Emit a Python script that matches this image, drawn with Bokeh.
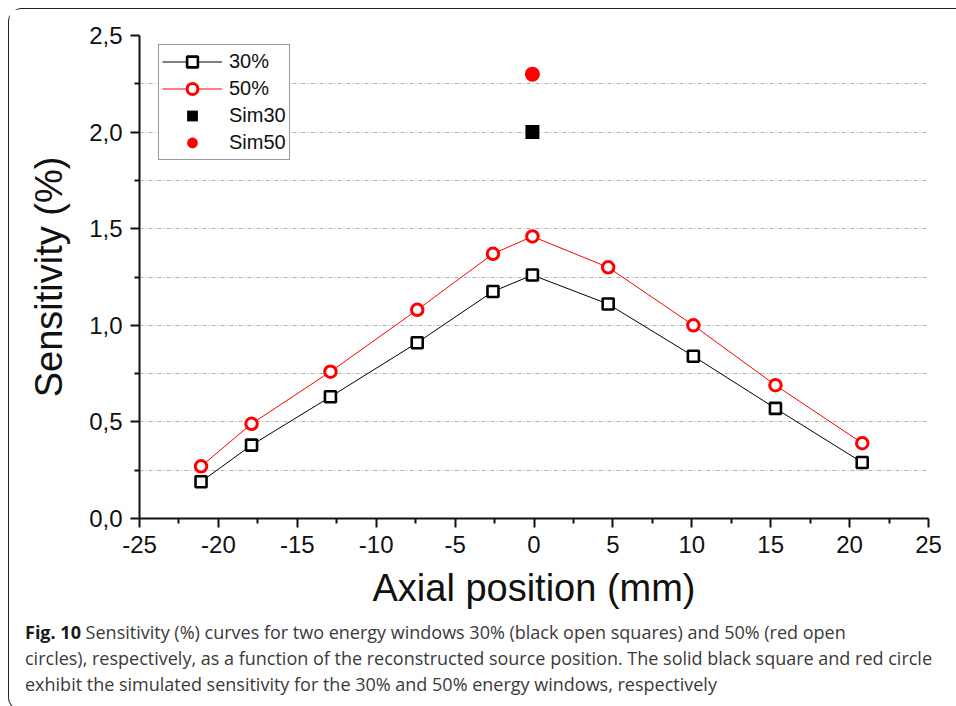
from bokeh.plotting import figure
from bokeh.models import Legend, LegendItem, FixedTicker, Div, Range1d, CustomJSTickFormatter
from bokeh.layouts import column
from bokeh.embed import file_html
from bokeh.resources import INLINE

# ---- data ----
x_pos = [-21.1, -17.9, -12.9, -7.4, -2.6, -0.1, 4.7, 10.1, 15.3, 20.8]
sens_30 = [0.19, 0.38, 0.63, 0.91, 1.175, 1.26, 1.11, 0.84, 0.57, 0.29]
sens_50 = [0.27, 0.49, 0.76, 1.08, 1.37, 1.46, 1.30, 1.00, 0.69, 0.39]
sim_x = [-0.1]
sim_30 = [2.0]
sim_50 = [2.30]

x_major = [-25, -20, -15, -10, -5, 0, 5, 10, 15, 20, 25]
x_minor = [-22.5, -17.5, -12.5, -7.5, -2.5, 2.5, 7.5, 12.5, 17.5, 22.5]
y_major = [0.0, 0.5, 1.0, 1.5, 2.0, 2.5]
y_minor = [0.25, 0.75, 1.25, 1.75, 2.25]
y_grid = [0.25, 0.5, 0.75, 1.0, 1.25, 1.5, 1.75, 2.0, 2.25]

FONT = "Liberation Sans"
INK = "#111111"

p = figure(frame_width=789, frame_height=483,
           min_border_left=130, min_border_top=26, min_border_right=18, min_border_bottom=96,
           x_range=Range1d(-25, 25), y_range=Range1d(0, 2.5),
           output_backend="svg", toolbar_location=None)
p.outline_line_color = None
p.background_fill_color = "white"
p.border_fill_color = "white"

# grid
p.xgrid.visible = False
p.ygrid.ticker = FixedTicker(ticks=y_grid)
p.ygrid.grid_line_color = "#b0b0b0"
p.ygrid.grid_line_dash = "4 2 1 2"
p.ygrid.grid_line_width = 1

# axes
for ax in (p.xaxis[0], p.yaxis[0]):
    ax.axis_line_width = 2
    ax.axis_line_color = INK
    ax.major_tick_line_width = 2
    ax.minor_tick_line_width = 2
    ax.major_tick_line_color = INK
    ax.minor_tick_line_color = INK
    ax.major_tick_in = 0
    ax.minor_tick_in = 0
    ax.major_tick_out = 9
    ax.minor_tick_out = 5
    ax.major_label_text_font = FONT
    ax.major_label_text_font_size = "24px"
    ax.major_label_text_color = INK
    ax.major_label_standoff = 8
    ax.axis_label_text_font = FONT
    ax.axis_label_text_font_size = "38px"
    ax.axis_label_text_font_style = "normal"
    ax.axis_label_text_color = INK

p.xaxis.ticker = FixedTicker(ticks=x_major, minor_ticks=x_minor)
p.yaxis.ticker = FixedTicker(ticks=y_major, minor_ticks=y_minor)
p.xaxis.formatter = CustomJSTickFormatter(code="return tick.toFixed(0);")
p.yaxis.formatter = CustomJSTickFormatter(code="return tick.toFixed(1).replace('.', ',');")
p.xaxis.axis_label = "Axial position (mm)"
p.yaxis.axis_label = "Sensitivity (%)"
p.xaxis.axis_label_standoff = 11
p.yaxis.axis_label_standoff = 16

# series
l30 = p.line(x_pos, sens_30, line_color="black", line_width=1)
m30 = p.scatter(x_pos, sens_30, marker="square", size=11, line_color="black",
                line_width=2.6, fill_color="white")
l50 = p.line(x_pos, sens_50, line_color="red", line_width=1)
m50 = p.scatter(x_pos, sens_50, marker="circle", size=11.5, line_color="red",
                line_width=3, fill_color="white")
s30 = p.scatter(sim_x, sim_30, marker="square", size=14, line_color="black",
                fill_color="black", line_width=0)
s50 = p.scatter(sim_x, sim_50, marker="circle", size=15, line_color="red",
                fill_color="red", line_width=0)

legend = Legend(items=[
    LegendItem(label="30%", renderers=[l30, m30]),
    LegendItem(label="50%", renderers=[l50, m50]),
    LegendItem(label="Sim30", renderers=[s30]),
    LegendItem(label="Sim50", renderers=[s50]),
], location=(19, 358))
legend.label_text_font = FONT
legend.label_text_font_size = "20px"
legend.label_text_color = INK
legend.glyph_width = 60
legend.glyph_height = 27
legend.label_height = 27
legend.label_standoff = 7
legend.spacing = 0
legend.padding = 3
legend.margin = 0
legend.border_line_color = "#333333"
legend.border_line_width = 1
legend.background_fill_color = "white"
legend.background_fill_alpha = 1
p.add_layout(legend)

caption_html = (
    '<div style="padding-top:0px; padding-left:11px; font-family:\'Open Sans\'; font-size:18px; '
    'line-height:26px; color:#3a3a3a; white-space:nowrap;">'
    '<b style="color:#1a1a1a;">Fig. 10</b> Sensitivity (%) curves for two energy windows 30% '
    '(black open squares) and 50% (red open<br>'
    'circles), respectively, as a function of the reconstructed source position. '
    'The solid black square and red circle<br>'
    'exhibit the simulated sensitivity for the 30% and 50% energy windows, respectively'
    '</div>'
)
caption = Div(text=caption_html, width=940, height=86)

layout = column(p, caption, margin=(8, 0, 0, 8),
                styles={"border-left": "1.5px solid #222",
                        "border-top": "1.5px solid #222",
                        "border-bottom": "1.5px solid #222",
                        "border-radius": "14px 0 0 14px",
                        "background": "white"})

open("out.html", "w").write(file_html(layout, INLINE))
